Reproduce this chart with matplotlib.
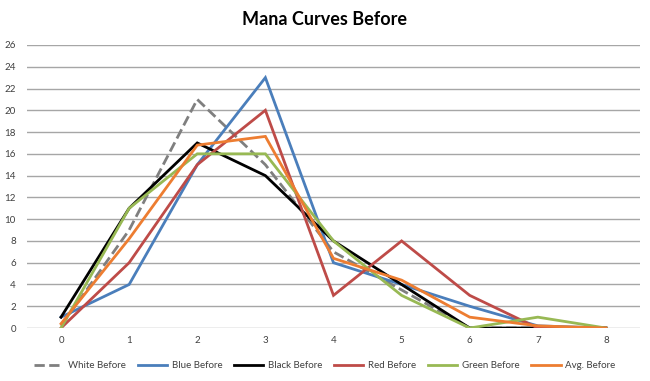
import numpy as np
import matplotlib.pyplot as plt

plt.rcParams['font.family'] = ['Lato', 'DejaVu Sans']

costo = [0, 1, 2, 3, 4, 5, 6, 7, 8]
white = [0.2, 9, 21, 15, 7, 3.5, 0, 0, 0]
blue = [1, 4, 15, 23, 6, 4, 2, 0.2, 0]
black = [1, 11, 17, 14, 8, 4, 0, 0, 0]
red = [0, 6, 15, 20, 3, 8, 3, 0, 0]
green = [0, 11, 16, 16, 8, 3, 0, 1, 0]
avg = [0.4, 8.2, 16.8, 17.6, 6.4, 4.4, 1.0, 0.2, 0]

series = [
    ('White Before', white, '#7f7f7f', '--'),
    ('Blue Before', blue, '#4a7ebb', '-'),
    ('Black Before', black, '#000000', '-'),
    ('Red Before', red, '#be4b48', '-'),
    ('Green Before', green, '#98b954', '-'),
    ('Avg. Before', avg, '#ed7d31', '-'),
]

fig = plt.figure(figsize=(6.5, 3.81), dpi=100)
ax = fig.add_axes([0.0415, 0.139, 0.9431, 0.743])

# lineas de la grilla
for yv in range(0, 27, 2):
    ax.axhline(yv, color='#a6a6a6', lw=1, zorder=0)

for nombre, vals, col, ls in series:
    ax.plot(costo, vals, color=col, linestyle=ls, lw=2, label=nombre,
            solid_joinstyle='miter')

ax.set_xlim(-0.5, 8.5)
ax.set_ylim(0, 26)
ax.set_yticks(range(0, 27, 2))
ax.set_xticks(costo)
for s in ax.spines.values():
    s.set_visible(False)
ax.tick_params(axis='both', length=0, labelsize=7, colors='#404040')
ax.tick_params(axis='x', pad=6)
ax.tick_params(axis='y', pad=8)

fig.suptitle('Mana Curves Before', x=0.5, y=0.97, fontsize=13, fontweight='bold')
fig.legend(loc='center', bbox_to_anchor=(0.5, 0.04), ncol=6, frameon=False,
           fontsize=7, handlelength=3.0, handletextpad=0.5, columnspacing=1.2,
           labelcolor='#404040')

fig.savefig('out.png', dpi=100)
